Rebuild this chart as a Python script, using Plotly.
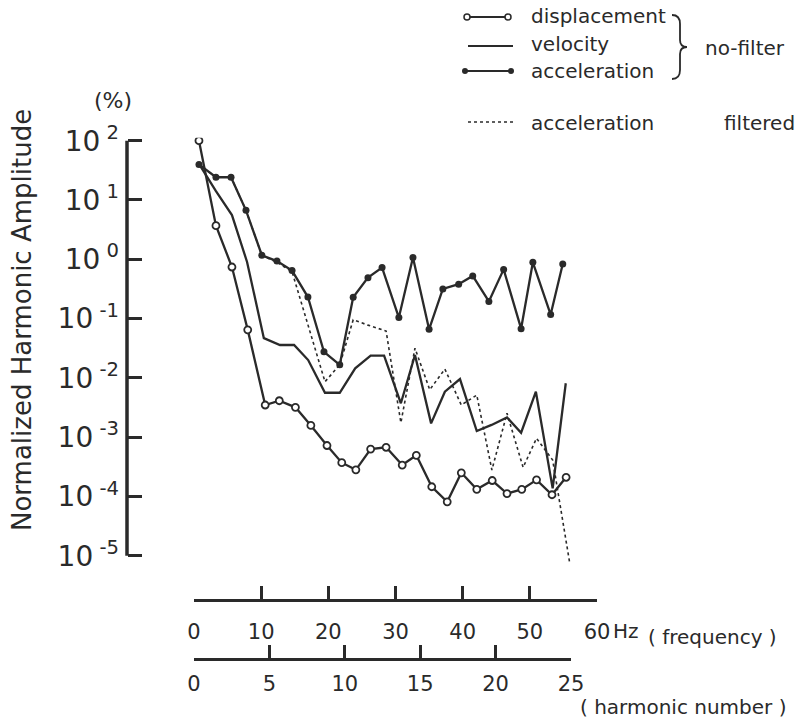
import plotly.graph_objects as go

W, H = 805, 718

# ---------------- data ----------------
# frequency positions (Hz) of each plotted harmonic, per series
freq_disp = [0.74, 3.27, 5.65, 8.0, 10.6, 12.7, 15.1, 17.4, 19.8, 22.0, 24.1, 26.3, 28.6,
             31.0, 33.1, 35.4, 37.7, 39.8, 42.1, 44.4, 46.6, 48.8, 51.0, 53.3, 55.4]
disp = [100, 3.69, 0.741, 0.0646, 3.49e-3, 4.12e-3, 3.19e-3, 1.58e-3, 7.24e-4, 3.72e-4,
        2.82e-4, 6.31e-4, 6.76e-4, 3.39e-4, 4.95e-4, 1.46e-4, 8.13e-5, 2.51e-4, 1.32e-4,
        1.86e-4, 1.12e-4, 1.32e-4, 1.91e-4, 1.07e-4, 2.11e-4]

freq_vel = [0.74, 3.27, 5.65, 7.9, 10.4, 12.8, 14.9, 17.0, 19.5, 21.7, 24.0, 26.3, 28.3,
            30.8, 32.9, 35.3, 37.35, 39.6, 42.1, 44.3, 46.6, 48.7, 50.9, 53.4, 55.35]
vel = [40.5, 14.1, 5.58, 0.902, 0.0468, 0.0359, 0.0359, 0.0200, 5.62e-3, 5.62e-3, 0.0145,
       0.0237, 0.0237, 3.73e-3, 0.0243, 1.71e-3, 5.85e-3, 9.57e-3, 1.27e-3, 1.61e-3,
       2.16e-3, 1.19e-3, 5.85e-3, 1.37e-4, 8.13e-3]

freq_acc = [0.74, 3.27, 5.51, 7.74, 10.1, 12.35, 14.6, 16.96, 19.35, 21.7, 23.7, 25.9, 28.0,
            30.5, 32.6, 35.0, 37.05, 39.4, 41.5, 43.9, 46.1, 48.7, 50.45, 53.1, 54.9]
acc = [39.8, 24.2, 24.2, 6.70, 1.17, 0.933, 0.646, 0.231, 0.0275, 0.0166, 0.229, 0.490,
       0.724, 0.104, 1.07, 0.0661, 0.316, 0.380, 0.525, 0.195, 0.676, 0.0676, 0.891,
       0.117, 0.832]

freq_filt = [0.74, 3.27, 5.51, 7.74, 10.1, 12.35, 14.6, 16.96, 19.5, 21.7, 23.7, 25.9, 28.6,
             30.8, 32.9, 35.1, 37.35, 39.8, 42.1, 44.35, 46.6, 49.0, 51.0, 53.4, 55.95]
acc_filt = [39.8, 24.2, 24.2, 6.70, 1.17, 0.891, 0.617, 0.0794, 8.63e-3, 0.0166, 0.0955,
            0.0776, 0.0617, 1.76e-3, 0.0316, 6.31e-3, 0.0141, 3.49e-3, 5.13e-3, 2.80e-4,
            2.53e-3, 3.10e-4, 9.57e-4, 4.12e-4, 7.41e-6]

freq_ticks = [0, 10, 20, 30, 40, 50, 60]
harm_ticks = [0, 5, 10, 15, 20, 25]
y_exps = [2, 1, 0, -1, -2, -3, -4, -5]

# ---------------- layout helpers ----------------
FONT = "DejaVu Sans"
INK = "#2a2a2a"

def px(x):
    return x / W

def py(y):
    return 1 - y / H

# y axis: 10^2 at pixel 140.7, one decade = 59.3 px
Y_TOP_LOG, Y_BOT_LOG = 2.05, -5.2
DEC = 59.3
y_top_px = 140.7 - (Y_TOP_LOG - 2) * DEC
y_bot_px = 140.7 + (2 - Y_BOT_LOG) * DEC

fig = go.Figure()

line_w = 2.3
fig.add_trace(go.Scatter(x=freq_vel, y=vel, mode="lines",
                         line=dict(color=INK, width=line_w), showlegend=False))
fig.add_trace(go.Scatter(x=freq_filt, y=acc_filt, mode="lines",
                         line=dict(color=INK, width=1.6, dash="dot"), showlegend=False))
fig.add_trace(go.Scatter(x=freq_acc, y=acc, mode="lines+markers",
                         line=dict(color=INK, width=line_w),
                         marker=dict(symbol="circle", size=7, color=INK),
                         showlegend=False))
fig.add_trace(go.Scatter(x=freq_disp, y=disp, mode="lines+markers",
                         line=dict(color=INK, width=line_w),
                         marker=dict(symbol="circle", size=7, color="white",
                                     line=dict(color=INK, width=1.8)),
                         showlegend=False))

# dummy trace so the harmonic-number axis exists
fig.add_trace(go.Scatter(x=[None], y=[None], xaxis="x2", yaxis="y", showlegend=False,
                         hoverinfo="skip"))

# ---------------- legend (drawn in a pixel-space overlay) ----------------
def leg_line(x0, x1, y, dash="solid", marker=None, width=2.0):
    kw = dict(x=[x0, x1], y=[y, y], xaxis="x3", yaxis="y3", showlegend=False,
              hoverinfo="skip", line=dict(color=INK, width=width, dash=dash))
    if marker is None:
        kw["mode"] = "lines"
    else:
        kw["mode"] = "lines+markers"
        kw["marker"] = marker
    fig.add_trace(go.Scatter(**kw))

leg_line(467, 508, 17, marker=dict(size=6, color="white", line=dict(color=INK, width=1.5)))
leg_line(468, 513, 46)
leg_line(465, 511, 71, marker=dict(size=6, color=INK))
leg_line(468, 513, 122, dash="dot", width=1.4)

annots = []

def txt(x, y, s, size=20, xanchor="left", angle=0):
    annots.append(dict(x=px(x), y=py(y), xref="paper", yref="paper", text=s,
                       showarrow=False, xanchor=xanchor, yanchor="middle",
                       textangle=angle, font=dict(family=FONT, size=size, color=INK)))

txt(529, 16, "displacement")
txt(529, 44, "velocity")
txt(529, 71, "acceleration")
txt(529, 123, "acceleration")
txt(703, 48, "no-filter")
txt(722, 123, "filtered")

txt(113, 101, "(%)", size=22, xanchor="center")
txt(22, 320, "Normalized Harmonic Amplitude", size=26, xanchor="center", angle=-90)
txt(611, 631, "Hz", size=20)
txt(646, 637, "( frequency )", size=20)
txt(578, 707, "( harmonic number )", size=20)

shapes = [
    # vertical y-axis line from 10^-5 to 10^2
    dict(type="line", xref="paper", yref="y", x0=px(127), x1=px(127), y0=1e-5, y1=1e2,
         line=dict(color=INK, width=3.5)),
    # brace
    dict(type="path", xref="x3", yref="y3",
         path="M 672,15 Q 680,15 680,24 L 680,40 Q 680,47 687,47 Q 680,47 680,54 "
              "L 680,70 Q 680,79 672,79",
         line=dict(color=INK, width=1.8)),
]

ytext = ["10<sup> %d</sup>" % e if e >= 0 else "10<sup> -%d</sup>" % (-e) for e in y_exps]

fig.update_layout(
    width=W, height=H,
    margin=dict(l=0, r=0, t=0, b=0, autoexpand=False),
    paper_bgcolor="white",
    plot_bgcolor="rgba(0,0,0,0)",
    font=dict(family=FONT, color=INK),
    showlegend=False,
    xaxis=dict(domain=[px(194), px(597)], range=[0, 60], anchor="free", position=py(600),
               automargin=False,
               showgrid=False, zeroline=False, showline=True, linecolor=INK, linewidth=3,
               ticks="inside", ticklen=13, tickwidth=3, tickcolor=INK,
               tickvals=freq_ticks, ticktext=[str(v) for v in freq_ticks],
               ticklabelstandoff=12,
               tickfont=dict(family=FONT, size=21, color=INK)),
    xaxis2=dict(domain=[px(194), px(571)], range=[0, 25], anchor="free", position=py(659),
                automargin=False,
                showgrid=False, zeroline=False, showline=True, linecolor=INK, linewidth=3,
                ticks="inside", ticklen=13, tickwidth=3, tickcolor=INK,
                tickvals=harm_ticks, ticktext=[str(v) for v in harm_ticks],
                ticklabelstandoff=5,
                tickfont=dict(family=FONT, size=21, color=INK)),
    yaxis=dict(type="log", domain=[py(y_bot_px), py(y_top_px)],
               range=[Y_BOT_LOG, Y_TOP_LOG], anchor="free", position=px(127),
               automargin=False,
               showgrid=False, zeroline=False, showline=False,
               ticks="inside", ticklen=14, tickwidth=3, tickcolor=INK,
               tickvals=[10.0 ** e for e in y_exps], ticktext=ytext,
               ticklabelstandoff=8,
               tickfont=dict(family=FONT, size=28, color=INK)),
    xaxis3=dict(domain=[0, 1], range=[0, W], visible=False, anchor="y3", automargin=False),
    yaxis3=dict(domain=[0, 1], range=[H, 0], visible=False, anchor="x3", automargin=False),
    annotations=annots,
    shapes=shapes,
)

fig.write_html("out.html")
